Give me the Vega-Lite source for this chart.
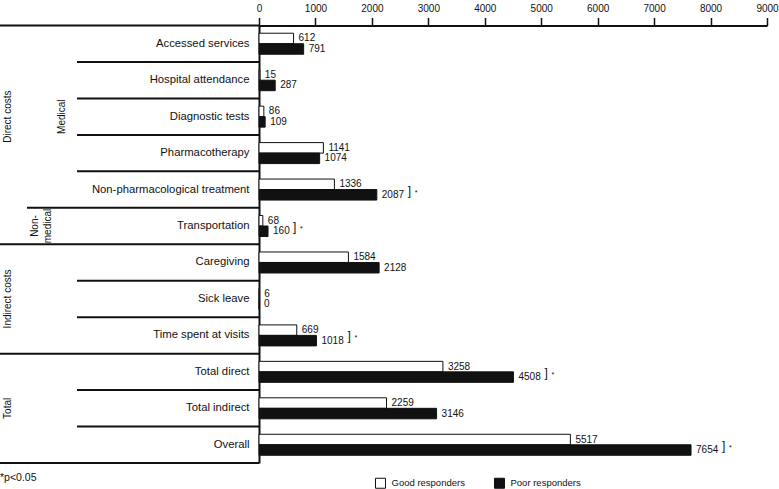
{
  "$schema": "https://vega.github.io/schema/vega-lite/v6.json",
  "description": "Mean costs of good and poor responders by cost item, with significance brackets",
  "width": 508,
  "height": 437.5,
  "autosize": {"type": "none"},
  "padding": {"left": 259, "top": 25.5, "right": 12, "bottom": 26},
  "background": "white",
  "config": {
    "font": "Liberation Sans",
    "view": {"stroke": null}
  },
  "datasets": {
    "costs": [
      {"item": "Accessed services", "responders": "Good responders", "cost": 612, "sig": false},
      {"item": "Accessed services", "responders": "Poor responders", "cost": 791, "sig": false},
      {"item": "Hospital attendance", "responders": "Good responders", "cost": 15, "sig": false},
      {"item": "Hospital attendance", "responders": "Poor responders", "cost": 287, "sig": false},
      {"item": "Diagnostic tests", "responders": "Good responders", "cost": 86, "sig": false},
      {"item": "Diagnostic tests", "responders": "Poor responders", "cost": 109, "sig": false},
      {"item": "Pharmacotherapy", "responders": "Good responders", "cost": 1141, "sig": false},
      {"item": "Pharmacotherapy", "responders": "Poor responders", "cost": 1074, "sig": false},
      {"item": "Non-pharmacological treatment", "responders": "Good responders", "cost": 1336, "sig": true},
      {"item": "Non-pharmacological treatment", "responders": "Poor responders", "cost": 2087, "sig": true},
      {"item": "Transportation", "responders": "Good responders", "cost": 68, "sig": true},
      {"item": "Transportation", "responders": "Poor responders", "cost": 160, "sig": true},
      {"item": "Caregiving", "responders": "Good responders", "cost": 1584, "sig": false},
      {"item": "Caregiving", "responders": "Poor responders", "cost": 2128, "sig": false},
      {"item": "Sick leave", "responders": "Good responders", "cost": 6, "sig": false},
      {"item": "Sick leave", "responders": "Poor responders", "cost": 0, "sig": false},
      {"item": "Time spent at visits", "responders": "Good responders", "cost": 669, "sig": true},
      {"item": "Time spent at visits", "responders": "Poor responders", "cost": 1018, "sig": true},
      {"item": "Total direct", "responders": "Good responders", "cost": 3258, "sig": true},
      {"item": "Total direct", "responders": "Poor responders", "cost": 4508, "sig": true},
      {"item": "Total indirect", "responders": "Good responders", "cost": 2259, "sig": false},
      {"item": "Total indirect", "responders": "Poor responders", "cost": 3146, "sig": false},
      {"item": "Overall", "responders": "Good responders", "cost": 5517, "sig": true},
      {"item": "Overall", "responders": "Poor responders", "cost": 7654, "sig": true}
    ],
    "separators": [
      {"item": "Accessed services", "depth": 0, "edge": "top"},
      {"item": "Hospital attendance", "depth": 2, "edge": "top"},
      {"item": "Diagnostic tests", "depth": 2, "edge": "top"},
      {"item": "Pharmacotherapy", "depth": 2, "edge": "top"},
      {"item": "Non-pharmacological treatment", "depth": 2, "edge": "top"},
      {"item": "Transportation", "depth": 1, "edge": "top"},
      {"item": "Caregiving", "depth": 0, "edge": "top"},
      {"item": "Sick leave", "depth": 2, "edge": "top"},
      {"item": "Time spent at visits", "depth": 2, "edge": "top"},
      {"item": "Total direct", "depth": 0, "edge": "top"},
      {"item": "Total indirect", "depth": 2, "edge": "top"},
      {"item": "Overall", "depth": 2, "edge": "top"},
      {"item": "Overall", "depth": 0, "edge": "bottom"}
    ],
    "groups": [
      {"label": "Direct costs", "item": "Diagnostic tests", "column": "level 1"},
      {"label": "Medical", "item": "Diagnostic tests", "column": "level 2"},
      {"label": "Non-\nmedical", "item": "Transportation", "column": "level 2 (wrapped)"},
      {"label": "Indirect costs", "item": "Sick leave", "column": "level 1"},
      {"label": "Total", "item": "Total indirect", "column": "level 1"}
    ],
    "notes": [
      {"note": "*p<0.05", "item": "Overall", "depth": 0}
    ]
  },
  "layer": [
    {
      "data": {"name": "costs"},
      "layer": [
        {
          "mark": {"type": "bar", "stroke": "#111111", "strokeWidth": 1},
          "encoding": {
            "x": {
              "field": "cost",
              "type": "quantitative",
              "scale": {"domain": [0, 9000], "nice": false, "zero": true},
              "axis": {
                "orient": "top",
                "title": null,
                "values": [0, 1000, 2000, 3000, 4000, 5000, 6000, 7000, 8000, 9000],
                "format": "d",
                "grid": false,
                "tickSize": 8,
                "tickWidth": 1.5,
                "tickColor": "#111111",
                "domainColor": "#111111",
                "domainWidth": 2,
                "labelFontSize": 10,
                "labelColor": "#111111",
                "labelPadding": 4,
                "labelFlush": false,
                "labelOverlap": false
              }
            },
            "y": {
              "field": "item",
              "type": "nominal",
              "scale": {
                "domain": ["Accessed services", "Hospital attendance", "Diagnostic tests", "Pharmacotherapy", "Non-pharmacological treatment", "Transportation", "Caregiving", "Sick leave", "Time spent at visits", "Total direct", "Total indirect", "Overall"],
                "paddingInner": 0,
                "paddingOuter": 0
              },
              "axis": {
                "title": null,
                "labels": true,
                "ticks": false,
                "domain": true,
                "domainWidth": 2,
                "domainColor": "#111111",
                "labelFontSize": 11.3,
                "labelPadding": 10,
                "labelLimit": 250,
                "labelColor": "#111111"
              }
            },
            "yOffset": {
              "field": "responders",
              "type": "nominal",
              "scale": {"domain": ["Good responders", "Poor responders"], "paddingInner": 0, "paddingOuter": 0.736}
            },
            "fill": {
              "field": "responders",
              "type": "nominal",
              "scale": {"domain": ["Good responders", "Poor responders"], "range": ["#ffffff", "#111111"]},
              "legend": {
                "title": null,
                "orient": "none",
                "legendX": 116,
                "legendY": 452,
                "direction": "horizontal",
                "symbolType": "square",
                "symbolSize": 100,
                "symbolStrokeColor": "#111111",
                "symbolStrokeWidth": 1,
                "labelFontSize": 9.5,
                "labelColor": "#111111",
                "labelOffset": 5.5,
                "columnPadding": 27
              }
            }
          }
        },
        {
          "mark": {"type": "text", "align": "left", "baseline": "middle", "dx": 5, "fontSize": 10, "fill": "#111111"},
          "encoding": {
            "x": {"field": "cost", "type": "quantitative"},
            "y": {"field": "item", "type": "nominal"},
            "yOffset": {"field": "responders", "type": "nominal"},
            "text": {"field": "cost", "type": "quantitative", "format": "d"}
          }
        },
        {
          "transform": [{"filter": "datum.sig && datum.responders === 'Poor responders'"}],
          "mark": {"type": "text", "text": "]", "align": "left", "baseline": "middle", "fontSize": 12, "dy": 1, "fill": "#111111", "dx": {"expr": "datum.cost >= 1000 ? 31 : 25"}},
          "encoding": {
            "x": {"field": "cost", "type": "quantitative"},
            "y": {"field": "item", "type": "nominal"}
          }
        },
        {
          "transform": [{"filter": "datum.sig && datum.responders === 'Poor responders'"}],
          "mark": {"type": "text", "text": "*", "align": "left", "baseline": "middle", "fontSize": 7, "dy": 3, "fill": "#111111", "dx": {"expr": "datum.cost >= 1000 ? 38 : 32"}},
          "encoding": {
            "x": {"field": "cost", "type": "quantitative"},
            "y": {"field": "item", "type": "nominal"}
          }
        }
      ]
    },
    {
      "data": {"name": "separators"},
      "transform": [{"filter": "datum.edge === 'top'"}],
      "mark": {"type": "rule", "stroke": "#111111", "strokeWidth": 2},
      "encoding": {
        "x": {
          "field": "depth",
          "type": "quantitative",
          "scale": {"domain": [0, 1, 2], "range": [-259, -232, -182], "nice": false, "zero": false},
          "axis": null
        },
        "x2": {"value": 0},
        "y": {"field": "item", "type": "nominal", "bandPosition": 0}
      }
    },
    {
      "data": {"name": "separators"},
      "transform": [{"filter": "datum.edge === 'bottom'"}],
      "mark": {"type": "rule", "stroke": "#111111", "strokeWidth": 2},
      "encoding": {
        "x": {
          "field": "depth",
          "type": "quantitative",
          "scale": {"domain": [0, 1, 2], "range": [-259, -232, -182], "nice": false, "zero": false},
          "axis": null
        },
        "x2": {"value": 0},
        "y": {"field": "item", "type": "nominal", "bandPosition": 1}
      }
    },
    {
      "data": {"name": "groups"},
      "mark": {"type": "text", "angle": 270, "align": "center", "baseline": "middle", "fontSize": 10, "fill": "#111111", "lineBreak": "\n", "lineHeight": 13},
      "encoding": {
        "x": {
          "field": "column",
          "type": "nominal",
          "scale": {"type": "point", "domain": ["level 1", "level 2 (wrapped)", "level 2"], "range": [-251, -197], "padding": 0},
          "axis": null
        },
        "y": {"field": "item", "type": "nominal"},
        "text": {"field": "label"}
      }
    },
    {
      "data": {"name": "notes"},
      "mark": {"type": "text", "align": "left", "baseline": "middle", "dy": 15, "fontSize": 10.5, "fill": "#111111"},
      "encoding": {
        "x": {
          "field": "depth",
          "type": "quantitative",
          "scale": {"domain": [0, 1, 2], "range": [-259, -232, -182], "nice": false, "zero": false},
          "axis": null
        },
        "y": {"field": "item", "type": "nominal", "bandPosition": 1},
        "text": {"field": "note"}
      }
    }
  ],
  "resolve": {"scale": {"x": "independent"}}
}
